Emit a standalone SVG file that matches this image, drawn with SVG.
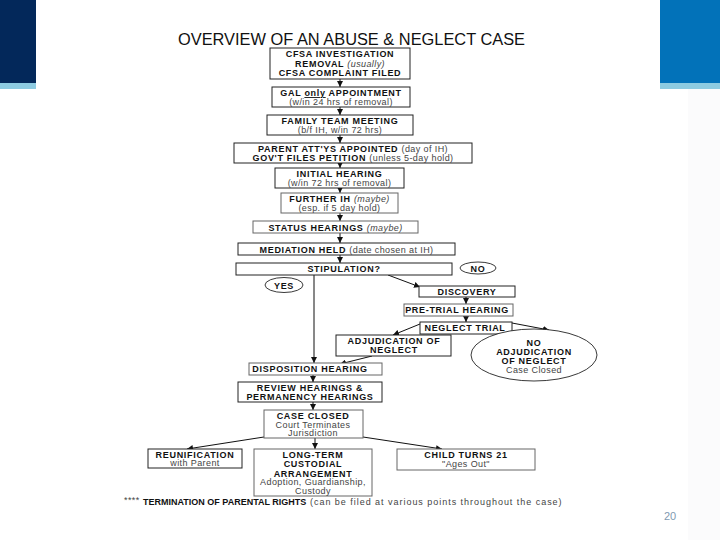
<svg xmlns="http://www.w3.org/2000/svg" width="720" height="540" viewBox="0 0 720 540">
<style>
.bx{fill:#fff;stroke:#222;stroke-width:1}
.bxl{fill:#fff;stroke:#666;stroke-width:1}
.b{font-family:"Liberation Sans",Arial,sans-serif;font-size:9px;font-weight:bold;letter-spacing:0.7px;fill:#111;text-anchor:middle}
.n{font-family:"Liberation Sans",Arial,sans-serif;font-size:9px;font-weight:normal;letter-spacing:0.4px;fill:#444}
.nm{font-family:"Liberation Sans",Arial,sans-serif;font-size:9px;font-weight:normal;letter-spacing:0.4px;fill:#444;text-anchor:middle}
.i{font-style:italic;font-weight:normal;fill:#444;letter-spacing:0.4px}
.p{font-style:normal;font-weight:normal;fill:#444;letter-spacing:0.4px}
.c line,.c path{stroke:#111;stroke-width:1;fill:none;marker-end:url(#ah)}
.el{fill:#fff;stroke:#222;stroke-width:0.9}
</style>
<defs>
<marker id="ah" markerUnits="userSpaceOnUse" markerWidth="6" markerHeight="6" viewBox="0 0 6 6" refX="6" refY="3" orient="auto">
<path d="M0,0 L6,3 L0,6 z" fill="#111"/>
</marker>
</defs>
<rect width="720" height="540" fill="#fff"/>
<g id="decor">
<rect x="0" y="0" width="36" height="83" fill="#03285A"/>
<rect x="0" y="83" width="36" height="6" fill="#8DCBE1"/>
<rect x="660" y="0" width="60" height="83" fill="#0272B9"/>
<rect x="660" y="83" width="60" height="6" fill="#8DCBE1"/>
<rect x="688" y="89" width="32" height="451" fill="#fbfbfc"/>
<text x="670" y="520" font-family="Liberation Sans,Arial,sans-serif" font-size="11" fill="#7f9ab2" text-anchor="middle">20</text>
</g>
<text id="title" x="178" y="45" font-family="Liberation Sans,Arial,sans-serif" font-size="16" fill="#111" textLength="347" lengthAdjust="spacingAndGlyphs">OVERVIEW OF AN ABUSE &amp; NEGLECT CASE</text>

<g class="c" id="connectors">
<line x1="340" y1="79" x2="340" y2="87"/>
<line x1="340" y1="107" x2="340" y2="115"/>
<line x1="340" y1="135" x2="340" y2="143"/>
<line x1="340" y1="163" x2="340" y2="168"/>
<line x1="340" y1="188" x2="340" y2="193"/>
<line x1="340" y1="213" x2="340" y2="221"/>
<line x1="340" y1="233" x2="340" y2="243"/>
<line x1="340" y1="255" x2="340" y2="263"/>
<line x1="314" y1="275" x2="314" y2="363"/>
<line x1="388" y1="275" x2="420" y2="287"/>
<line x1="466" y1="297" x2="466" y2="304"/>
<line x1="466" y1="316" x2="466" y2="322"/>
<line x1="420" y1="324" x2="393" y2="335"/>
<line x1="512" y1="323" x2="549" y2="330"/>
<line x1="372" y1="356" x2="340" y2="364"/>
<line x1="313" y1="375" x2="313" y2="382"/>
<line x1="313" y1="402" x2="313" y2="410"/>
<line x1="264" y1="437" x2="187" y2="449"/>
<line x1="315" y1="438" x2="315" y2="449"/>
<line x1="363" y1="437" x2="442" y2="449"/>
</g>

<g id="n1"><rect class="bx" x="270" y="48" width="140" height="31"/>
<text class="b" x="340" y="57">CFSA INVESTIGATION</text>
<text class="b" x="340" y="66.5">REMOVAL <tspan class="i">(usually)</tspan></text>
<text class="b" x="340" y="76">CFSA COMPLAINT FILED</text></g>

<g id="n2"><rect class="bx" x="272" y="87" width="138" height="20"/>
<text class="b" x="341" y="96">GAL <tspan text-decoration="underline">only</tspan> APPOINTMENT</text>
<text class="nm" x="341" y="105">(w/in 24 hrs of removal)</text></g>

<g id="n3"><rect class="bx" x="267" y="115" width="146" height="20"/>
<text class="b" x="340" y="124">FAMILY TEAM MEETING</text>
<text class="nm" x="340" y="133">(b/f IH, w/in 72 hrs)</text></g>

<g id="n4"><rect class="bx" x="234" y="143" width="238" height="20"/>
<text class="b" x="353" y="152">PARENT ATT'YS APPOINTED <tspan class="p">(day of IH)</tspan></text>
<text class="b" x="353" y="161">GOV'T FILES PETITION <tspan class="p">(unless 5-day hold)</tspan></text></g>

<g id="n5"><rect class="bx" x="275" y="168" width="129" height="20"/>
<text class="b" x="339.5" y="177">INITIAL HEARING</text>
<text class="nm" x="339.5" y="186">(w/in 72 hrs of removal)</text></g>

<g id="n6"><rect class="bxl" x="281" y="193" width="117" height="20"/>
<text class="b" x="339.5" y="202">FURTHER IH <tspan class="i">(maybe)</tspan></text>
<text class="nm" x="339.5" y="211">(esp. if 5 day hold)</text></g>

<g id="n7"><rect class="bxl" x="253" y="221" width="165" height="12"/>
<text class="b" x="335.5" y="230.5">STATUS HEARINGS <tspan class="i">(maybe)</tspan></text></g>

<g id="n8"><rect class="bx" x="238" y="243" width="217" height="12"/>
<text class="b" x="346.5" y="252.5">MEDIATION HELD <tspan class="p">(date chosen at IH)</tspan></text></g>

<g id="n9"><rect class="bx" x="236" y="263" width="216" height="12"/>
<text class="b" x="344" y="272">STIPULATION?</text></g>

<g id="no"><ellipse class="el" cx="478" cy="268" rx="18" ry="6"/>
<text class="b" x="478" y="271.5" font-size="8">NO</text></g>

<g id="yes"><ellipse class="el" cx="284" cy="285" rx="19" ry="7.5"/>
<text class="b" x="284" y="288.5" font-size="8">YES</text></g>

<g id="discovery"><rect class="bx" x="419" y="286" width="96" height="11"/>
<text class="b" x="467" y="294.5">DISCOVERY</text></g>

<g id="pretrial"><rect class="bxl" x="404" y="304" width="109" height="12"/>
<text class="b" x="457" y="313">PRE-TRIAL HEARING</text></g>

<g id="trial"><rect class="bx" x="420" y="322" width="92" height="12"/>
<text class="b" x="465" y="331">NEGLECT TRIAL</text></g>

<g id="adj"><rect class="bx" x="336" y="335" width="115" height="21"/>
<text class="b" x="394" y="344">ADJUDICATION OF</text>
<text class="b" x="394" y="353">NEGLECT</text></g>

<g id="noadj"><ellipse class="el" cx="534" cy="355" rx="63" ry="26" stroke-width="0.8"/>
<text class="b" x="534" y="346">NO</text>
<text class="b" x="534" y="355">ADJUDICATION</text>
<text class="b" x="534" y="364">OF NEGLECT</text>
<text class="nm" x="534" y="373">Case Closed</text></g>

<g id="disp"><rect class="bxl" x="249" y="363" width="133" height="12"/>
<text class="b" x="310" y="372">DISPOSITION HEARING</text></g>

<g id="review"><rect class="bx" x="238" y="382" width="144" height="20"/>
<text class="b" x="310" y="391">REVIEW HEARINGS &amp;</text>
<text class="b" x="310" y="400">PERMANENCY HEARINGS</text></g>

<g id="closed"><rect class="bxl" x="264" y="410" width="99" height="28"/>
<text class="b" x="313" y="418.5">CASE CLOSED</text>
<text class="nm" x="313" y="427.5">Court Terminates</text>
<text class="nm" x="313" y="436">Jurisdiction</text></g>

<g id="reun"><rect class="bx" x="148" y="449" width="94" height="19"/>
<text class="b" x="195" y="457.5">REUNIFICATION</text>
<text class="nm" x="195" y="466">with Parent</text></g>

<g id="longterm"><rect class="bxl" x="254" y="449" width="118" height="47"/>
<text class="b" x="313" y="457.5">LONG-TERM</text>
<text class="b" x="313" y="467">CUSTODIAL</text>
<text class="b" x="313" y="476.5">ARRANGEMENT</text>
<text class="nm" x="313" y="485">Adoption, Guardianship,</text>
<text class="nm" x="313" y="493.5">Custody</text></g>

<g id="child"><rect class="bxl" x="397" y="449" width="138" height="21"/>
<text class="b" x="466" y="457.5">CHILD TURNS 21</text>
<text class="nm" x="466" y="466.5">"Ages Out"</text></g>

<g id="footer">
<text class="n" x="124" y="503" font-size="7">****</text>
<text class="b" x="143" y="505" style="text-anchor:start" textLength="164" lengthAdjust="spacing">TERMINATION OF PARENTAL RIGHTS</text>
<text class="n" x="310" y="505" textLength="252" lengthAdjust="spacing">(can be filed at various points throughout the case)</text>
</g>
</svg>
